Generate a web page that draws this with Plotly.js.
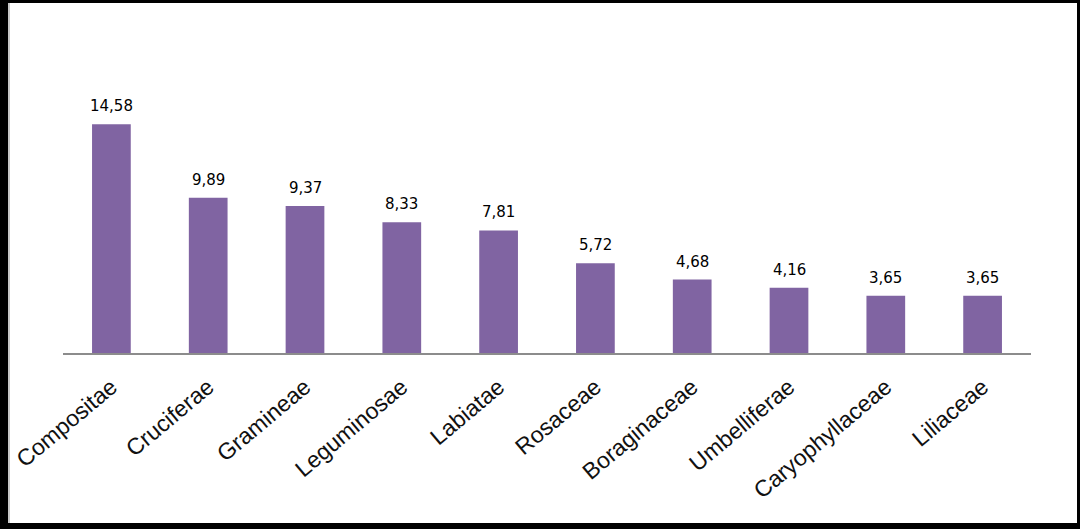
<!DOCTYPE html>
<html>
<head>
<meta charset="utf-8">
<script src="https://cdn.plot.ly/plotly-3.0.1.min.js"></script>
<style>
  html, body { margin: 0; padding: 0; background: #fff; }
  #frame { width: 1080px; height: 529px; box-sizing: border-box;
           border-style: solid; border-color: #000;
           border-width: 3px 3px 6px 8px; position: relative; }
  #inner { position: absolute; left: 0; top: 0; right: 0; bottom: 0;
           border-left: 2px solid #c8c8c8; }
  #chart { position: absolute; left: 0; top: 0; width: 1069px; height: 520px; }
</style>
</head>
<body>
<div id="frame"><div id="inner"></div><div id="chart"></div></div>
<script>
const families = ["Compositae", "Cruciferae", "Gramineae", "Leguminosae", "Labiatae",
                  "Rosaceae", "Boraginaceae", "Umbelliferae", "Caryophyllaceae", "Liliaceae"];
const percentages = [14.58, 9.89, 9.37, 8.33, 7.81, 5.72, 4.68, 4.16, 3.65, 3.65];
const valueLabels = percentages.map(v => v.toFixed(2).replace('.', ','));

const trace = {
  type: 'bar',
  x: families,
  y: percentages,
  marker: { color: '#8064A2' },
  hoverinfo: 'x+y'
};

const annotations = families.map((f, i) => ({
  x: f, y: percentages[i], xref: 'x', yref: 'y',
  text: valueLabels[i], showarrow: false,
  yanchor: 'middle', yshift: 18,
  font: { family: 'DejaVu Sans, Verdana, sans-serif', size: 15, color: '#000' }
}));

const layout = {
  width: 1069, height: 520,
  margin: { l: 55, r: 46, t: 99, b: 170 },
  paper_bgcolor: 'rgba(0,0,0,0)',
  plot_bgcolor: 'rgba(0,0,0,0)',
  bargap: 0.6,
  showlegend: false,
  xaxis: {
    tickangle: -40,
    ticklabelstandoff: 10,
    tickfont: { family: 'Liberation Sans, Arial, sans-serif', size: 23, color: '#111' },
    showline: true, linecolor: '#8c8c8c', linewidth: 1.5,
    ticks: '', showgrid: false, zeroline: false
  },
  yaxis: {
    range: [0, 16], visible: false, showgrid: false, zeroline: false
  },
  annotations: annotations
};

Plotly.newPlot('chart', [trace], layout, { displayModeBar: false, staticPlot: true });
</script>
</body>
</html>
